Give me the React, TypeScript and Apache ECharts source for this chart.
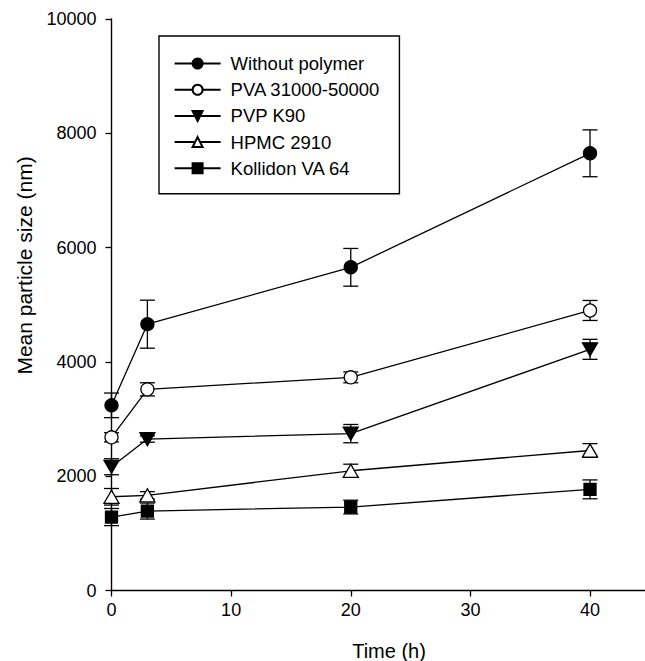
import React, { useEffect, useRef } from "react";
import * as echarts from "echarts";

const FONT = "'Liberation Sans', Arial, Helvetica, sans-serif";

const time = [0, 3, 20, 40];
const seriesNames = ["Without polymer", "PVA 31000-50000", "PVP K90", "HPMC 2910", "Kollidon VA 64"];

const withoutPolymer = [3240, 4660, 5655, 7650];
const withoutPolymerErr = [215, 420, 330, 410];
const pva = [2680, 3520, 3730, 4900];
const pvaErr = [80, 115, 95, 175];
const pvp = [2165, 2650, 2745, 4220];
const pvpErr = [140, 55, 160, 175];
const hpmc = [1640, 1665, 2095, 2450];
const hpmcErr = [145, 65, 115, 120];
const kollidon = [1285, 1390, 1460, 1770];
const kollidonErr = [150, 140, 120, 165];

const yTicks = { min: 0, max: 10000, interval: 2000 };
const xTicks = { min: 0, max: 46, interval: 10 };

const DOWN_TRI = "path://M0,0L10,0L5,9Z";
const UP_TRI = "path://M5,0L10,9L0,9Z";

export default function App() {
  const ref = useRef<HTMLDivElement>(null);
  useEffect(() => {
    if (!ref.current) return;
    const chart = echarts.init(ref.current, undefined, { renderer: "svg" });

    const all = [
      { name: seriesNames[0], vals: withoutPolymer, err: withoutPolymerErr, symbol: "circle", size: 13, fill: "#000" },
      { name: seriesNames[1], vals: pva, err: pvaErr, symbol: "circle", size: 13, fill: "#fff" },
      { name: seriesNames[2], vals: pvp, err: pvpErr, symbol: DOWN_TRI, size: [15, 13], fill: "#000" },
      { name: seriesNames[3], vals: hpmc, err: hpmcErr, symbol: UP_TRI, size: [15, 13], fill: "#fff" },
      { name: seriesNames[4], vals: kollidon, err: kollidonErr, symbol: "rect", size: 12, fill: "#000" },
    ];

    const series: any[] = [];
    all.forEach((s, i) => {
      series.push({
        type: "custom",
        name: "err" + i,
        z: 1,
        silent: true,
        data: time.map((t, k) => [t, s.vals[k] - s.err[k], s.vals[k] + s.err[k]]),
        encode: { x: 0, y: [1, 2] },
        renderItem: (params: any, api: any) => {
          const x = api.value(0);
          const lo = api.coord([x, api.value(1)]);
          const hi = api.coord([x, api.value(2)]);
          const hw = 7.5;
          const st = { stroke: "#000", lineWidth: 1.3 };
          return {
            type: "group",
            children: [
              { type: "line", shape: { x1: lo[0], y1: lo[1], x2: hi[0], y2: hi[1] }, style: st },
              { type: "line", shape: { x1: hi[0] - hw, y1: hi[1], x2: hi[0] + hw, y2: hi[1] }, style: st },
              { type: "line", shape: { x1: lo[0] - hw, y1: lo[1], x2: lo[0] + hw, y2: lo[1] }, style: st },
            ],
          };
        },
      });
    });
    all.forEach((s) => {
      series.push({
        type: "line",
        name: s.name,
        z: 3,
        data: time.map((t, k) => [t, s.vals[k]]),
        symbol: s.symbol,
        symbolSize: s.size,
        showAllSymbol: true,
        lineStyle: { color: "#000", width: 1.3 },
        itemStyle: { color: s.fill, borderColor: "#000", borderWidth: 1.3, opacity: 1 },
        emphasis: { disabled: true },
      });
    });

    chart.setOption({
      animation: false,
      backgroundColor: "#fff",
      textStyle: { fontFamily: FONT },
      grid: { left: 111.5, top: 19, bottom: 70.5, right: -16.8, containLabel: false, outerBoundsMode: "none" },
      xAxis: {
        type: "value",
        min: xTicks.min,
        max: xTicks.max,
        interval: xTicks.interval,
        splitLine: { show: false },
        axisLine: { onZero: false, lineStyle: { color: "#000", width: 1.4 } },
        axisTick: { length: 6, lineStyle: { color: "#000", width: 1.3 } },
        axisLabel: { color: "#000", fontSize: 18, margin: 10, fontFamily: FONT, showMaxLabel: false },
      },
      yAxis: {
        type: "value",
        min: yTicks.min,
        max: yTicks.max,
        interval: yTicks.interval,
        splitLine: { show: false },
        axisLine: { show: true, lineStyle: { color: "#000", width: 1.4 } },
        axisTick: { show: true, length: 6, lineStyle: { color: "#000", width: 1.3 } },
        axisLabel: { color: "#000", fontSize: 18, margin: 15, fontFamily: FONT, formatter: (v: number) => String(v) },
      },
      legend: {
        data: seriesNames,
        orient: "vertical",
        left: 159,
        top: 36,
        padding: [18, 19, 16, 14.6],
        itemWidth: 46,
        itemHeight: 12.5,
        itemGap: 7.2,
        borderColor: "#000",
        borderWidth: 1.4,
        backgroundColor: "#fff",
        selectedMode: false,
        textStyle: { color: "#000", fontSize: 18.5, fontFamily: FONT, padding: [0, 0, 0, 5] },
      },
      graphic: [
        {
          type: "text",
          x: 24,
          y: 265.5,
          rotation: Math.PI / 2,
          style: { text: "Mean particle size (nm)", font: `21px ${FONT}`, fill: "#000", align: "center", verticalAlign: "middle" },
        },
        {
          type: "text",
          x: 389,
          y: 650.5,
          style: { text: "Time (h)", font: `20px ${FONT}`, fill: "#000", align: "center", verticalAlign: "middle" },
        },
      ],
      series,
    });
    return () => chart.dispose();
  }, []);
  return <div ref={ref} style={{ position: "fixed", left: 0, top: 0, width: 645, height: 661 }} />;
}
